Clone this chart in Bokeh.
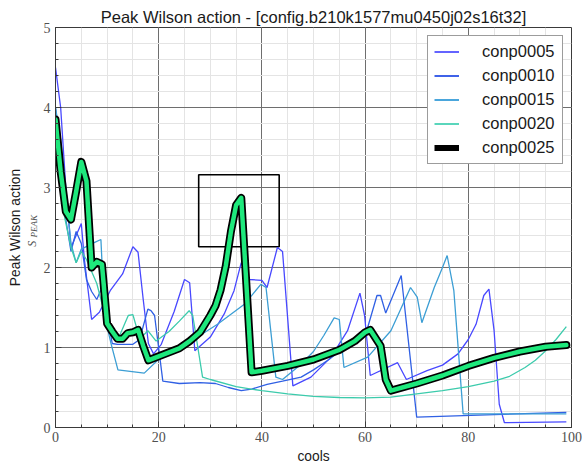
import math
from bokeh.plotting import figure
from bokeh.layouts import row
from bokeh.models import (Range1d, Legend, LegendItem, Label, SingleIntervalTicker)
from bokeh.embed import file_html
from bokeh.resources import INLINE

# ---------------- data ----------------
title_text = "Peak Wilson action - [config.b210k1577mu0450j02s16t32]"
x_label = "cools"
y_label = "Peak Wilson action"
y_sub_main = "S"
y_sub_sub = "PEAK"

series_names = ["conp0005", "conp0010", "conp0015", "conp0020", "conp0025"]

conp0005_x = [0, 1, 2, 3, 4, 5, 5.6, 7, 8.5, 10.6, 13, 15, 16, 17, 18, 19, 20.5, 23, 25, 26, 27,
              30, 32.7, 34.6, 36, 37.5, 40, 41, 43, 44, 46, 49.5, 53.4, 56.6, 59, 59.9, 61,
              66.3, 68, 72, 75, 78, 80, 81.5, 83, 84, 85, 86, 87, 99]
conp0005_y = [4.5, 4.0, 3.0, 2.25, 2.4, 2.55, 2.1, 1.35, 1.44, 1.71, 1.92, 2.26, 2.19, 1.6, 1.05, 0.92, 1.04, 1.45, 1.85, 1.81, 0.96,
              1.13, 1.42, 1.71, 2.06, 1.85, 1.84, 1.75, 2.25, 2.2, 0.52, 0.63, 0.88, 1.21, 1.68, 1.4, 0.65,
              0.81, 0.6, 0.71, 0.78, 0.92, 1.1, 1.29, 1.65, 1.73, 1.21, 0.29, 0.06, 0.07]

conp0010_x = [0, 1, 2, 3, 4, 5, 6, 7, 8, 9, 10, 11, 12, 15, 16.3, 17.9, 18.5, 19.2, 20.8, 24, 28, 31,
              33.5, 36, 38, 41, 44, 47.6, 50, 53, 56, 58, 60.5, 62.3, 63, 64, 66.3, 67, 70, 99]
conp0010_y = [4.0, 3.5, 2.6, 2.2, 2.45, 2.3, 1.85, 1.7, 1.6, 1.75, 1.4, 1.05, 1.04, 1.04, 1.1, 1.48, 1.46, 1.4, 0.58, 0.55, 0.56, 0.55,
              0.5, 0.46, 0.48, 0.54, 0.58, 0.63, 0.72, 0.85, 1.0, 1.12, 1.25, 1.65, 1.65, 1.43, 1.79, 1.9, 0.13, 0.19]

conp0015_x = [0, 1, 1.7, 3, 4, 5, 7.5, 8.8, 9.5, 10.8, 12.1, 17.2, 20.1, 24.3, 31.4, 36.6, 39.8, 40.8,
              42.7, 44, 47.6, 50, 52, 54, 55, 55.9, 60.5, 65, 68.8, 70.1, 71, 73.4, 75, 75.9, 77.2, 79, 99]
conp0015_y = [4.0, 3.6, 3.15, 2.3, 2.06, 2.23, 2.31, 2.35, 1.4, 1.04, 0.72, 0.68, 0.86, 1.0, 1.29, 1.54, 1.79, 1.75,
              0.63, 0.6, 0.79, 0.95, 1.15, 1.37, 1.35, 0.75, 0.88, 1.21, 1.75, 1.63, 1.31, 1.75, 2.0, 2.15, 1.71, 0.17, 0.17]

conp0020_x = [0, 1, 1.7, 3, 4, 5, 6, 7, 8, 9, 10, 11, 12.1, 14.1, 15, 15.8, 16, 17, 17.9, 19.5, 22, 24,
              25.9, 26.6, 28.5, 30, 35, 40, 45, 50, 55, 60, 65, 70, 75, 80, 85, 88, 91, 93, 95, 97, 99]
conp0020_y = [3.9, 3.3, 2.65, 2.25, 2.06, 2.2, 2.1, 1.95, 1.8, 1.55, 1.3, 1.15, 1.1, 1.4, 1.41, 1.23, 1.08, 1.15, 1.21, 1.08, 1.2, 1.33,
              1.46, 1.4, 0.63, 0.6, 0.51, 0.46, 0.42, 0.39, 0.375, 0.37, 0.38, 0.42, 0.46, 0.51, 0.58, 0.64, 0.75, 0.84, 0.96, 1.1, 1.26]

conp0025_x = [0, 1, 2, 3, 4, 5, 6, 7, 8, 9, 10, 11, 12, 13, 14, 15, 16, 17, 18, 20, 22, 24, 26, 28,
              30, 31, 32, 33, 34, 35, 36, 38, 40, 45, 50, 55, 58, 60, 61, 62, 63, 64, 65, 70, 75,
              80, 85, 90, 95, 99]
conp0025_y = [3.85, 3.2, 2.7, 2.6, 2.95, 3.32, 3.08, 2.0, 2.07, 2.04, 1.3, 1.2, 1.11, 1.11, 1.18, 1.19, 1.22, 1.02, 0.84, 0.89, 0.94, 0.99, 1.08, 1.19,
              1.4, 1.52, 1.72, 2.02, 2.45, 2.78, 2.87, 0.69, 0.71, 0.77, 0.85, 0.97, 1.08, 1.19, 1.22, 1.12, 1.02, 0.6, 0.46, 0.55, 0.65,
              0.77, 0.87, 0.95, 1.01, 1.03]

box_x = [27.75, 43.35]
box_y = [2.26, 3.16]

x_range = (0, 100)
y_range = (0, 5)
x_tick_interval = 20
y_tick_interval = 1

# ---------------- style ----------------
thin_colors = ["#4848ff", "#3060e4", "#3c9ed4", "#3ccbac"]
legend_colors = ["#6464ff", "#3f62e8", "#4aa6dc", "#5ad6bc"]
thick_outer = "black"
thick_inner = "#1ee87c"
grid_major = "#6e6e6e"
grid_minor = "#e4e4e4"
frame_col = "#3a3a3a"
tick_font = "Liberation Serif"
sans = "Liberation Sans"
text_col = "#1a1a1a"
tick_col = "#505050"

LEFT_W = 40       # width of the y-title strip
TOP, BOTTOM = 27, 39

p = figure(width=582 - LEFT_W, height=466, x_range=Range1d(*x_range), y_range=Range1d(*y_range),
           output_backend="svg", toolbar_location=None,
           min_border_left=54 - LEFT_W, min_border_right=11, min_border_top=TOP, min_border_bottom=BOTTOM,
           background_fill_color="white", border_fill_color="white")

p.title.text = title_text
p.title.text_font = sans
p.title.text_font_size = "16.5px"
p.title.text_font_style = "normal"
p.title.text_color = text_col
p.title.align = "center"
p.title.standoff = 4
p.title.offset = 0

xt = SingleIntervalTicker(interval=x_tick_interval, num_minor_ticks=4)
yt = SingleIntervalTicker(interval=y_tick_interval, num_minor_ticks=5)
xaxis = p.xaxis[0]
yaxis = p.yaxis[0]
xaxis.ticker = xt
yaxis.ticker = yt
p.xgrid.ticker = xt
p.ygrid.ticker = yt

for g in (p.xgrid, p.ygrid):
    g.grid_line_color = grid_major
    g.grid_line_width = 1
    g.minor_grid_line_color = grid_minor
    g.minor_grid_line_width = 1

for ax in (xaxis, yaxis):
    ax.axis_line_color = frame_col
    ax.major_tick_in = 6
    ax.major_tick_out = 0
    ax.minor_tick_in = 3
    ax.minor_tick_out = 0
    ax.major_tick_line_color = frame_col
    ax.minor_tick_line_color = frame_col
    ax.major_label_text_font = tick_font
    ax.major_label_text_font_size = "14px"
    ax.major_label_text_color = tick_col

xaxis.major_label_standoff = 4
yaxis.major_label_standoff = 5
xaxis.axis_label = x_label
xaxis.axis_label_text_font = sans
xaxis.axis_label_text_font_size = "13.8px"
xaxis.axis_label_text_font_style = "normal"
xaxis.axis_label_text_color = text_col
xaxis.axis_label_standoff = 4

p.outline_line_color = frame_col
p.outline_line_width = 1

# box (drawn under lines)
p.quad(left=[box_x[0]], right=[box_x[1]], bottom=[box_y[0]], top=[box_y[1]],
       fill_alpha=0, line_color="black", line_width=1.6)

xs = [conp0005_x, conp0010_x, conp0015_x, conp0020_x]
ys = [conp0005_y, conp0010_y, conp0015_y, conp0020_y]
for x, y, c in zip(xs, ys, thin_colors):
    p.line(x, y, line_color=c, line_width=1.3)

p.line(conp0025_x, conp0025_y, line_color=thick_outer, line_width=8,
       line_join="round", line_cap="round")
p.line(conp0025_x, conp0025_y, line_color=thick_inner, line_width=4.5,
       line_join="round", line_cap="round")

# legend proxies (a single NaN point: nothing drawn in the plot, only in the legend)
nan = float("nan")
legend_renderers = [p.line([nan], [nan], line_color=c, line_width=2) for c in legend_colors]
legend_renderers.append(p.line([nan], [nan], line_color="black", line_width=6))

legend = Legend(items=[LegendItem(label=n, renderers=[r]) for n, r in zip(series_names, legend_renderers)],
                location="top_right")
legend.label_text_font = sans
legend.label_text_font_size = "16.5px"
legend.label_text_color = text_col
legend.border_line_color = "#3a3a3a"
legend.border_line_width = 1
legend.background_fill_alpha = 1
legend.glyph_width = 25
legend.glyph_height = 19
legend.label_height = 19
legend.label_width = 74
legend.label_standoff = 23
legend.spacing = 5
legend.padding = 6
legend.margin = 8
p.add_layout(legend)

# ---------------- y-title strip (same vertical frame as the plot) ----------------
t = figure(width=LEFT_W, height=466, x_range=Range1d(0, LEFT_W), y_range=Range1d(*y_range),
           output_backend="svg", toolbar_location=None, x_axis_type=None, y_axis_type=None,
           min_border_left=0, min_border_right=0, min_border_top=TOP, min_border_bottom=BOTTOM,
           outline_line_color=None, background_fill_color="white", border_fill_color="white")
t.grid.visible = False
y_mid = (y_range[0] + y_range[1]) / 2
t.add_layout(Label(x=15.0, y=y_mid, text=y_label, angle=math.pi / 2,
                   text_align="center", text_baseline="middle",
                   text_font=sans, text_font_size="13.8px", text_color=text_col))
t.add_layout(Label(x=31.0, y=y_mid - 0.241, text=y_sub_main, angle=math.pi / 2,
                   text_align="left", text_baseline="middle",
                   text_font=tick_font, text_font_style="italic", text_font_size="12px",
                   text_color=tick_col))
t.add_layout(Label(x=33.2, y=y_mid - 0.125, text=y_sub_sub, angle=math.pi / 2,
                   text_align="left", text_baseline="middle",
                   text_font=tick_font, text_font_style="italic", text_font_size="9px",
                   text_color=tick_col))

layout = row(t, p, spacing=0)
open("out.html", "w").write(file_html(layout, INLINE))
